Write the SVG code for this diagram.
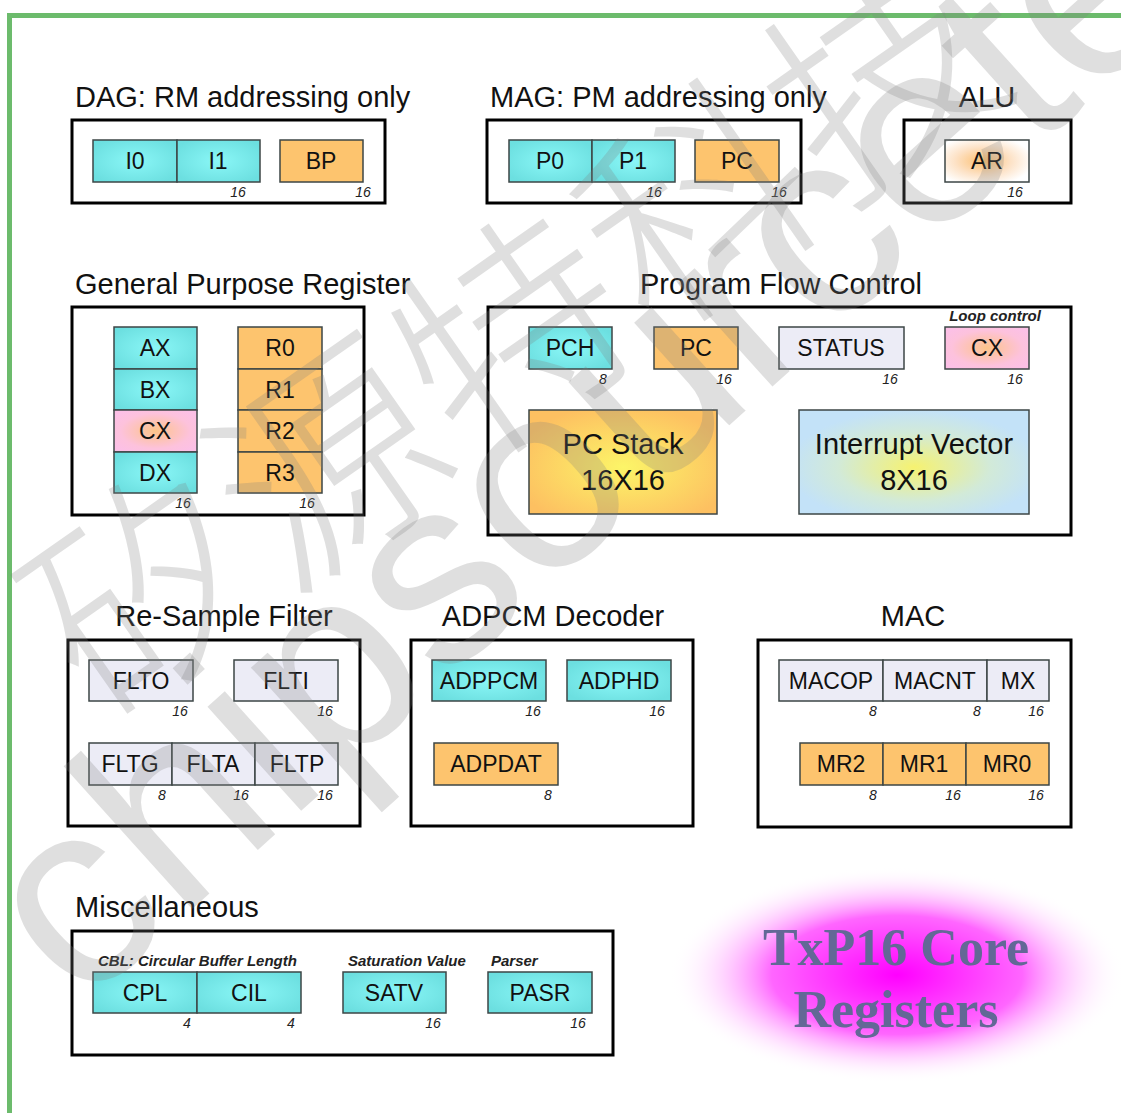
<svg xmlns="http://www.w3.org/2000/svg" width="1121" height="1113" viewBox="0 0 1121 1113">
<defs>
<radialGradient id="cy" cx="50%" cy="50%" r="60%"><stop offset="0" stop-color="#8af7f7"/><stop offset="1" stop-color="#6cdfe0"/></radialGradient>
<radialGradient id="pk" cx="50%" cy="50%" r="60%"><stop offset="0" stop-color="#fdc48a"/><stop offset="0.7" stop-color="#fdc2dc"/><stop offset="1" stop-color="#fcc0e6"/></radialGradient>
<radialGradient id="ar" cx="45%" cy="50%" r="60%"><stop offset="0" stop-color="#fcbf70"/><stop offset="0.55" stop-color="#fde2c6"/><stop offset="1" stop-color="#ffffff"/></radialGradient>
<radialGradient id="stk" cx="50%" cy="55%" r="60%"><stop offset="0" stop-color="#fcf568"/><stop offset="1" stop-color="#fdc061"/></radialGradient>
<radialGradient id="ivec" cx="50%" cy="55%" r="55%"><stop offset="0" stop-color="#f6f270"/><stop offset="0.6" stop-color="#d2ead8"/><stop offset="1" stop-color="#c3e2f8"/></radialGradient>
<radialGradient id="mag" cx="50%" cy="50%" r="50%"><stop offset="0" stop-color="#ff00ff"/><stop offset="0.55" stop-color="#ff66ff"/><stop offset="1" stop-color="#ffffff" stop-opacity="0"/></radialGradient>
</defs>
<style>
.frame{fill:none;stroke:#000;stroke-width:3}
.reg{stroke:#3c4646;stroke-width:1.5}
.c{fill:url(#cy)}
.o{fill:#fdc46e}
.l{fill:#ececf6}
.p{fill:url(#pk)}
.title{font-family:"Liberation Sans",Arial,sans-serif;font-size:29px;fill:#111}
.lab{font-family:"Liberation Sans",Arial,sans-serif;font-size:23px;fill:#111;text-anchor:middle}
.big{font-family:"Liberation Sans",Arial,sans-serif;font-size:29px;fill:#111;text-anchor:middle}
.sz{font-family:"Liberation Sans",Arial,sans-serif;font-size:14px;font-style:italic;fill:#222;text-anchor:middle}
.note{font-family:"Liberation Sans",Arial,sans-serif;font-size:15px;font-style:italic;font-weight:bold;fill:#222}
.m{text-anchor:middle}
</style>
<rect width="1121" height="1113" fill="#ffffff"/>
<g id="border" stroke="#6cbb6c" stroke-width="5" fill="none"><path d="M9.5 1113 V15.5 H1121"/></g>

<g id="dag">
<text class="title" x="75" y="107">DAG: RM addressing only</text>
<rect class="frame" x="72" y="120" width="313" height="83"/>
<rect class="reg c" x="93" y="140" width="84" height="42"/><text class="lab" x="135" y="169">I0</text>
<rect class="reg c" x="177" y="140" width="83" height="42"/><text class="lab" x="218" y="169">I1</text>
<rect class="reg o" x="280" y="140" width="83" height="42"/><text class="lab" x="321" y="169">BP</text>
<text class="sz" x="238" y="197">16</text><text class="sz" x="363" y="197">16</text>
</g>

<g id="mag-unit">
<text class="title" x="490" y="107">MAG: PM addressing only</text>
<rect class="frame" x="487" y="120" width="314" height="83"/>
<rect class="reg c" x="509" y="140" width="83" height="42"/><text class="lab" x="550" y="169">P0</text>
<rect class="reg c" x="592" y="140" width="83" height="42"/><text class="lab" x="633" y="169">P1</text>
<rect class="reg o" x="695" y="140" width="84" height="42"/><text class="lab" x="737" y="169">PC</text>
<text class="sz" x="654" y="197">16</text><text class="sz" x="779" y="197">16</text>
</g>

<g id="alu">
<text class="title m" x="987" y="107">ALU</text>
<rect class="frame" x="904" y="120" width="167" height="83"/>
<rect class="reg" fill="url(#ar)" x="945" y="140" width="84" height="42"/><text class="lab" x="987" y="169">AR</text>
<text class="sz" x="1015" y="197">16</text>
</g>

<g id="gpr">
<text class="title" x="75" y="294">General Purpose Register</text>
<rect class="frame" x="72" y="307" width="292" height="208"/>
<rect class="reg c" x="114" y="327" width="83" height="42"/><text class="lab" x="155" y="356">AX</text>
<rect class="reg c" x="114" y="369" width="83" height="41"/><text class="lab" x="155" y="398">BX</text>
<rect class="reg p" x="114" y="410" width="83" height="42"/><text class="lab" x="155" y="439">CX</text>
<rect class="reg c" x="114" y="452" width="83" height="41"/><text class="lab" x="155" y="481">DX</text>
<rect class="reg o" x="238" y="327" width="84" height="42"/><text class="lab" x="280" y="356">R0</text>
<rect class="reg o" x="238" y="369" width="84" height="41"/><text class="lab" x="280" y="398">R1</text>
<rect class="reg o" x="238" y="410" width="84" height="42"/><text class="lab" x="280" y="439">R2</text>
<rect class="reg o" x="238" y="452" width="84" height="41"/><text class="lab" x="280" y="481">R3</text>
<text class="sz" x="183" y="508">16</text><text class="sz" x="307" y="508">16</text>
</g>

<g id="pfc">
<text class="title m" x="781" y="294">Program Flow Control</text>
<rect class="frame" x="488" y="307" width="583" height="228"/>
<rect class="reg c" x="529" y="327" width="83" height="42"/><text class="lab" x="570" y="356">PCH</text>
<rect class="reg o" x="654" y="327" width="84" height="42"/><text class="lab" x="696" y="356">PC</text>
<rect class="reg l" x="779" y="327" width="125" height="42"/><text class="lab" x="841" y="356">STATUS</text>
<text class="note m" x="995" y="321">Loop control</text>
<rect class="reg p" x="945" y="327" width="84" height="42"/><text class="lab" x="987" y="356">CX</text>
<text class="sz" x="603" y="384">8</text><text class="sz" x="724" y="384">16</text><text class="sz" x="890" y="384">16</text><text class="sz" x="1015" y="384">16</text>
<rect class="reg" fill="url(#stk)" x="529" y="410" width="188" height="104"/>
<text class="big" x="623" y="454">PC Stack</text><text class="big" x="623" y="490">16X16</text>
<rect class="reg" fill="url(#ivec)" x="799" y="410" width="230" height="104"/>
<text class="big" x="914" y="454">Interrupt Vector</text><text class="big" x="914" y="490">8X16</text>
</g>

<g id="rsf">
<text class="title m" x="224" y="626">Re-Sample Filter</text>
<rect class="frame" x="68" y="640" width="292" height="186"/>
<rect class="reg l" x="89" y="660" width="104" height="41"/><text class="lab" x="141" y="689">FLTO</text>
<rect class="reg l" x="234" y="660" width="104" height="41"/><text class="lab" x="286" y="689">FLTI</text>
<rect class="reg l" x="89" y="743" width="83" height="42"/><text class="lab" x="130" y="772">FLTG</text>
<rect class="reg l" x="172" y="743" width="83" height="42"/><text class="lab" x="213" y="772">FLTA</text>
<rect class="reg l" x="255" y="743" width="83" height="42"/><text class="lab" x="297" y="772">FLTP</text>
<text class="sz" x="180" y="716">16</text><text class="sz" x="325" y="716">16</text>
<text class="sz" x="162" y="800">8</text><text class="sz" x="241" y="800">16</text><text class="sz" x="325" y="800">16</text>
</g>

<g id="adpcm">
<text class="title m" x="553" y="626">ADPCM Decoder</text>
<rect class="frame" x="411" y="640" width="282" height="186"/>
<rect class="reg c" x="432" y="660" width="114" height="41"/><text class="lab" x="489" y="689">ADPPCM</text>
<rect class="reg c" x="567" y="660" width="104" height="41"/><text class="lab" x="619" y="689">ADPHD</text>
<rect class="reg o" x="434" y="743" width="124" height="42"/><text class="lab" x="496" y="772">ADPDAT</text>
<text class="sz" x="533" y="716">16</text><text class="sz" x="657" y="716">16</text>
<text class="sz" x="548" y="800">8</text>
</g>

<g id="mac">
<text class="title m" x="913" y="626">MAC</text>
<rect class="frame" x="758" y="640" width="313" height="187"/>
<rect class="reg l" x="779" y="660" width="104" height="41"/><text class="lab" x="831" y="689">MACOP</text>
<rect class="reg l" x="883" y="660" width="104" height="41"/><text class="lab" x="935" y="689">MACNT</text>
<rect class="reg l" x="987" y="660" width="62" height="41"/><text class="lab" x="1018" y="689">MX</text>
<rect class="reg o" x="800" y="743" width="83" height="42"/><text class="lab" x="841" y="772">MR2</text>
<rect class="reg o" x="883" y="743" width="83" height="42"/><text class="lab" x="924" y="772">MR1</text>
<rect class="reg o" x="966" y="743" width="83" height="42"/><text class="lab" x="1007" y="772">MR0</text>
<text class="sz" x="873" y="716">8</text><text class="sz" x="977" y="716">8</text><text class="sz" x="1036" y="716">16</text>
<text class="sz" x="873" y="800">8</text><text class="sz" x="953" y="800">16</text><text class="sz" x="1036" y="800">16</text>
</g>

<g id="misc">
<text class="title" x="75" y="917">Miscellaneous</text>
<rect class="frame" x="72" y="931" width="541" height="124"/>
<text class="note" x="98" y="966">CBL:  Circular Buffer Length</text>
<text class="note" x="348" y="966">Saturation Value</text>
<text class="note" x="491" y="966">Parser</text>
<rect class="reg c" x="93" y="972" width="104" height="41"/><text class="lab" x="145" y="1001">CPL</text>
<rect class="reg c" x="197" y="972" width="104" height="41"/><text class="lab" x="249" y="1001">CIL</text>
<rect class="reg c" x="343" y="972" width="103" height="41"/><text class="lab" x="394" y="1001">SATV</text>
<rect class="reg c" x="488" y="972" width="104" height="41"/><text class="lab" x="540" y="1001">PASR</text>
<text class="sz" x="187" y="1028">4</text><text class="sz" x="291" y="1028">4</text><text class="sz" x="433" y="1028">16</text><text class="sz" x="578" y="1028">16</text>
</g>

<g id="banner">
<ellipse cx="897" cy="975" rx="228" ry="108" fill="url(#mag)"/>
<text x="896" y="965" font-family="'Liberation Serif','Times New Roman',serif" font-weight="bold" font-size="52" fill="#636896" text-anchor="middle">TxP16 Core</text>
<text x="896" y="1027" font-family="'Liberation Serif','Times New Roman',serif" font-weight="bold" font-size="52" fill="#636896" text-anchor="middle">Registers</text>
</g>

<g id="watermark" fill="#808080" fill-opacity="0.25">
<text transform="translate(100,725) rotate(-35)" font-family="'Noto Sans CJK SC',sans-serif" font-weight="300" font-size="225">矽源特科技</text>
<text transform="translate(80,1010) rotate(-42)" font-family="'Liberation Sans',Arial,sans-serif" font-size="265">chipsourcetek</text>
</g>
</svg>
